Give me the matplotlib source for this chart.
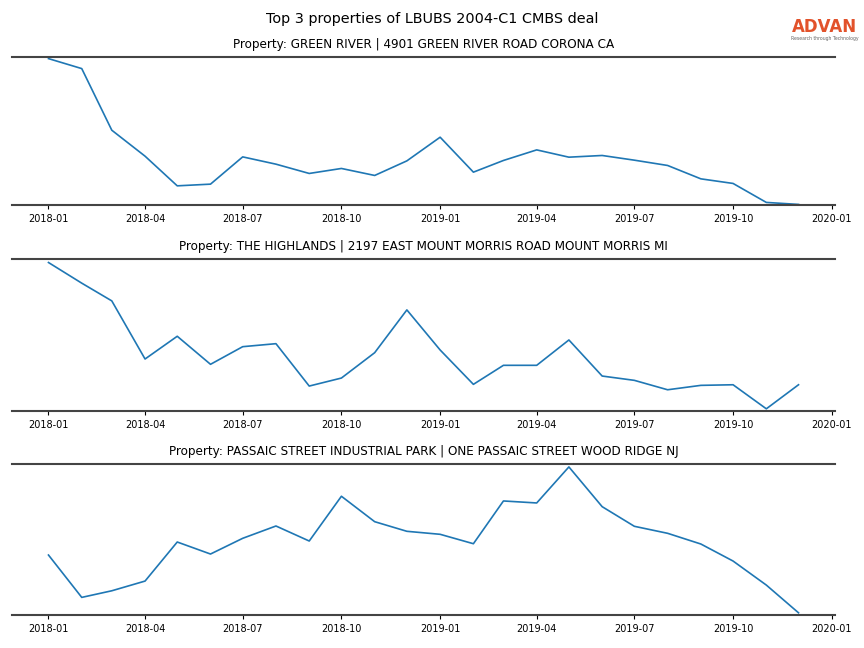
import pandas as pd
import matplotlib
matplotlib.use('Agg')
import matplotlib.pyplot as plt


# monthly readings, 2018-01 .. 2019-12 (relative units)
months = pd.date_range('2018-01-01', '2019-12-01', freq='MS')

titles = [
    'Property: GREEN RIVER | 4901 GREEN RIVER ROAD CORONA CA',
    'Property: THE HIGHLANDS | 2197 EAST MOUNT MORRIS ROAD MOUNT MORRIS MI',
    'Property: PASSAIC STREET INDUSTRIAL PARK | ONE PASSAIC STREET WOOD RIDGE NJ',
]

green_river = [146.4, 136.4, 74.7, 48.7, 19.0, 20.7, 48.0, 40.7, 31.4, 36.4, 29.4, 44.0,
               67.7, 32.7, 44.4, 55.0, 47.7, 49.4, 44.7, 39.4, 26.0, 21.4, 2.4, 0.4]
highlands = [148.3, 127.7, 110.0, 52.0, 74.7, 46.7, 64.3, 67.3, 25.0, 33.0, 58.3, 101.0,
             61.0, 26.7, 45.7, 45.7, 71.0, 35.0, 30.7, 21.3, 25.7, 26.3, 2.3, 26.3]
passaic = [60.0, 17.7, 24.3, 34.0, 73.0, 61.0, 76.7, 89.0, 74.0, 118.7, 93.3, 83.7,
           80.7, 71.3, 114.0, 112.0, 148.0, 108.3, 88.7, 81.7, 71.0, 54.0, 30.0, 2.3]

series = [green_river, highlands, passaic]

W, H = 864, 648
fig = plt.figure(figsize=(8.64, 6.48), dpi=100)
fig.suptitle('Top 3 properties of LBUBS 2004-C1 CMBS deal', fontsize=10.35, y=1 - 19 / H, va='center')

# logo
fig.text(824.5 / W, 1 - 27.5 / H, 'ADVAN', color='#e2522b', fontsize=12, fontweight='bold',
         ha='center', va='center')
fig.text(824.5 / W, 1 - 38.5 / H, 'Research through Technology', color='#666666', fontsize=3.3,
         ha='center', va='center')

# axes boxes in pixels: (top, bottom), and y padding (below, above)
boxes = [(57, 205), (259, 411), (464, 615)]
pads = [(0.004, 0.011), (0.015, 0.024), (0.015, 0.02)]
x0, x1 = 12, 835

for (top, bottom), (pb, pt), title, vals in zip(boxes, pads, titles, series):
    ax = fig.add_axes([x0 / W, 1 - bottom / H, (x1 - x0) / W, (bottom - top) / H])
    ax.plot(months, vals, color='#1f77b4', lw=1.2)
    lo, hi = min(vals), max(vals)
    ax.set_ylim(lo - (hi - lo) * pb, hi + (hi - lo) * pt)
    ax.set_xlim(pd.Timestamp('2017-11-28'), pd.Timestamp('2020-01-04'))
    qs = pd.date_range('2018-01-01', '2020-01-01', freq='QS')
    ax.set_xticks(qs)
    ax.set_xticklabels([d.strftime('%Y-%m') for d in qs])
    ax.tick_params(axis='x', labelsize=7, length=3, width=0.8)
    ax.set_yticks([])
    for s in ['left', 'right']:
        ax.spines[s].set_visible(False)
    for s in ['top', 'bottom']:
        ax.spines[s].set_color('#444444')
        ax.spines[s].set_linewidth(1.5)
    ax.set_title(title, fontsize=8.65, pad=6.5)

plt.savefig('out.png', dpi=100)
